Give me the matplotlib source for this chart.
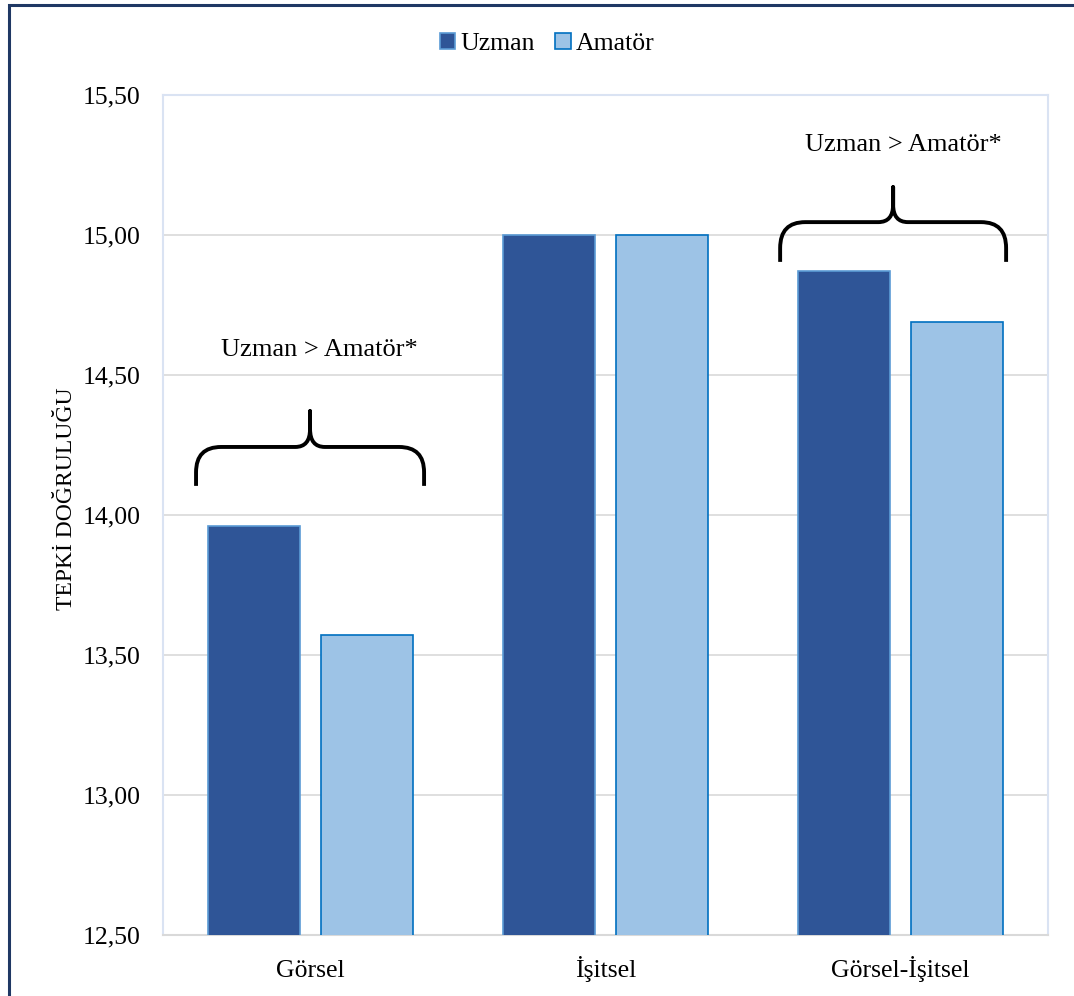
import numpy as np
import matplotlib.pyplot as plt
from matplotlib.path import Path
from matplotlib.patches import PathPatch, Rectangle
from matplotlib.ticker import FuncFormatter

plt.rcParams['font.family'] = ['Liberation Serif', 'DejaVu Serif']

# Veriler
kategoriler = ["Görsel", "İşitsel", "Görsel-İşitsel"]
uzman = [13.96, 15.00, 14.87]
amator = [13.57, 15.00, 14.69]
seriler = ["Uzman", "Amatör"]
etiket = "Uzman > Amatör*"

barWidth = 0.312
offset = 0.19

fig = plt.figure(figsize=(10.74, 9.96), dpi=100)
ax = fig.add_axes([163/1074, 1 - 935/996, 885/1074, 840/996])

x = np.arange(len(kategoriler))
ax.bar(x - offset, uzman, width=barWidth, color='#2f5597',
       edgecolor='#5b9bd5', linewidth=1.2, label=seriler[0], zorder=3)
ax.bar(x + offset, amator, width=barWidth, color='#9dc3e6',
       edgecolor='#0070c0', linewidth=1.2, label=seriler[1], zorder=3)

ax.set_xlim(-0.5, len(kategoriler) - 0.5)
ax.set_ylim(12.5, 15.5)
ax.set_yticks(np.arange(12.5, 15.51, 0.5))
ax.yaxis.set_major_formatter(FuncFormatter(lambda v, p: f"{v:.2f}".replace('.', ',')))
ax.set_xticks(x)
ax.set_xticklabels(kategoriler, va='baseline')
ax.tick_params(axis='both', length=0, labelsize=18.5)
ax.tick_params(axis='y', pad=16)
ax.tick_params(axis='x', pad=30)
ax.grid(axis='y', color='#d9d9d9', linewidth=1.2, zorder=0)
for s in ax.spines.values():
    s.set_color('#dae3f3')
    s.set_linewidth(1.5)
ax.spines['bottom'].set_color('#d9d9d9')

ax.set_ylabel("TEPKİ DOĞRULUĞU", fontsize=17)
ax.yaxis.set_label_coords(-0.097, 0.52)


# Süslü parantez
def parantez(ax, x0, x1, yb, yh, yp):
    xm = (x0 + x1) / 2
    r = 0.085
    r2 = 0.05
    yc = yh + (yp - yh) * 0.5
    yt = yb + (yh - yb) * 0.35
    verts = [(x0, yb), (x0, yt), (x0, yh), (x0 + r, yh),
             (xm - r2, yh), (xm, yh), (xm, yc), (xm, yp),
             (xm, yc), (xm, yh), (xm + r2, yh),
             (x1 - r, yh), (x1, yh), (x1, yt), (x1, yb)]
    codes = [Path.MOVETO, Path.LINETO, Path.CURVE3, Path.CURVE3,
             Path.LINETO, Path.CURVE3, Path.CURVE3, Path.LINETO,
             Path.LINETO, Path.CURVE3, Path.CURVE3,
             Path.LINETO, Path.CURVE3, Path.CURVE3, Path.LINETO]
    ax.add_patch(PathPatch(Path(verts, codes), fill=False, edgecolor='black',
                           linewidth=2.8, capstyle='butt', joinstyle='round', zorder=5))


parantez(ax, -0.388, 0.385, 14.104, 14.243, 14.371)
ax.text(0.03, 14.589, etiket, ha='center', va='center', fontsize=19)
parantez(ax, 1.592, 2.358, 14.904, 15.046, 15.171)
ax.text(2.01, 15.321, etiket, ha='center', va='center', fontsize=19)

fig.legend(loc='center', bbox_to_anchor=(547/1074, 1 - 44/996), ncol=2, frameon=False,
           fontsize=18.5, handlelength=0.6, handleheight=0.6, handletextpad=0.2,
           columnspacing=0.8)

# Çerçeve
fig.patches.append(Rectangle((9/1074, -0.1), 1.2, 1.1 - 5/996, transform=fig.transFigure,
                             fill=False, edgecolor='#1f3864', linewidth=2.2))

plt.savefig('out.png', dpi=100)
